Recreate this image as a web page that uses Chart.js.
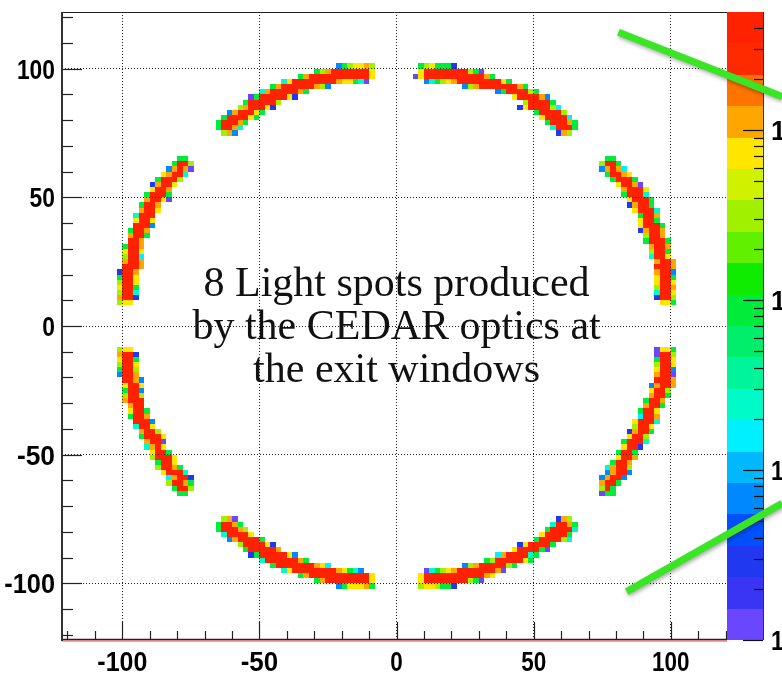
<!DOCTYPE html>
<html>
<head>
<meta charset="utf-8">
<title>CEDAR light spots</title>
<script src="https://cdn.jsdelivr.net/npm/chart.js@4.4.1/dist/chart.umd.min.js"></script>
<style>
  html, body { margin: 0; padding: 0; background: #fff; }
  #wrap { width: 782px; height: 674px; }
</style>
</head>
<body>
<div id="wrap"><canvas id="spots" width="782" height="674"></canvas></div>
<script>
// histogram frame ranges (bins are 2 x 2)
const X_RANGE = [-122, 120.5];
const Y_RANGE = [-122, 122];
const Z_RANGE = [1, 4945];
const BIN = 2;

// axis ticks and labels
const MAJOR_TICKS = [-100, -50, 0, 50, 100];
const MAJOR_LABELS = ['-100', '-50', '0', '50', '100'];
const MINOR_TICKS = [-120, -110, -90, -80, -70, -60, -40, -30, -20, -10, 10, 20, 30, 40, 60, 70, 80, 90, 110, 120];
const Z_MAJOR = [1, 10, 100, 1000];
const Z_MINOR = [2, 3, 4, 5, 6, 7, 8, 9, 20, 30, 40, 50, 60, 70, 80, 90,
                 200, 300, 400, 500, 600, 700, 800, 900, 2000, 3000, 4000];
const Z_LABELS = ['1', '10', '10²', '10³'];

// colour palette, bottom (low) to top (high)
const PALETTE = ['#6b46ff', '#3a35f2', '#2038f0', '#0050ff', '#0088ff',
                 '#00b8ff', '#00f0ff', '#00fac8', '#00f49a', '#00ee6a',
                 '#00ec3a', '#10ec00', '#60f000', '#a0f000', '#d0f200',
                 '#ffe600', '#ffa600', '#ff7400', '#ff2a00', '#ff2200'];

// cell code -> palette band
const CODE_BAND = { V: 0, D: 2, B: 4, C: 6, T: 7, G: 10, L: 13, Y: 15, O: 16, R: 19 };

// each row: [y bin low edge, x bin low edge of first cell, one code per cell]
const arcTopLeft = [
    [100, -22, 'BGLYYOL'],
    [98, -30, 'GLORRRRRRRY'],
    [96, -36, 'GORRRRRRRRRRRY'],
    [94, -42, 'TYRRRRRRRROYYGTV'],
    [92, -46, 'GORRRRRROLB'],
    [90, -50, 'TORRRRROG'],
    [88, -54, 'VGRRRRRYD'],
    [86, -56, 'GRRRRRL'],
    [84, -58, 'LORRRYD'],
    [82, -62, 'BORRRYG'],
    [80, -64, 'GRRRRYG'],
    [78, -66, 'GRRROG'],
    [76, -66, 'GRROT'],
    [74, -64, 'LOB']
];

const arcTopRight = [
    [100, 8, 'GLYGGGD'],
    [98, 8, 'YRRRRRRRRLGV'],
    [96, 6, 'VYRRRRRRRRRRROG'],
    [94, 10, 'BTGLYORRRRRRRRYG'],
    [92, 24, 'BLORRRRRRROG'],
    [90, 36, 'BGRRRRLG'],
    [88, 42, 'YRRRROB'],
    [86, 46, 'LRRRRG'],
    [84, 44, 'DYRRRRLC'],
    [82, 50, 'GRRRRL'],
    [80, 52, 'YRRRRC'],
    [78, 54, 'GRRROG'],
    [76, 56, 'TRRRG'],
    [74, 58, 'DOL']
];

const arcUpperLeft = [
    [64, -80, 'GG'],
    [62, -82, 'GRRL'],
    [60, -84, 'BOROV'],
    [58, -86, 'YORRT'],
    [56, -88, 'GRRRL'],
    [54, -90, 'DORRY'],
    [52, -90, 'YRRO'],
    [50, -92, 'GRRRG'],
    [48, -92, 'ORRYV'],
    [46, -94, 'GRRO'],
    [44, -94, 'ORRY'],
    [42, -96, 'TRRR'],
    [40, -96, 'YRRY'],
    [38, -96, 'RRRB'],
    [36, -98, 'GRRO'],
    [34, -98, 'ORRG'],
    [32, -98, 'RRO'],
    [30, -100, 'GRRO'],
    [28, -100, 'YRRY'],
    [26, -100, 'LRRC'],
    [24, -100, 'ORRO'],
    [22, -100, 'RRRO'],
    [20, -102, 'DRRO'],
    [18, -102, 'GRRY'],
    [16, -102, 'LRRY'],
    [14, -102, 'YRRG'],
    [12, -102, 'LRRT'],
    [10, -102, 'ORRD'],
    [8, -102, 'LYY']
];

const arcLowerLeft = [
    [-10, -102, 'LYY'],
    [-12, -102, 'ORRD'],
    [-14, -102, 'YRRG'],
    [-16, -102, 'LRRY'],
    [-18, -102, 'GRRL'],
    [-20, -102, 'BRRO'],
    [-22, -100, 'RROB'],
    [-24, -100, 'YRRY'],
    [-26, -100, 'GRRB'],
    [-28, -100, 'LRRL'],
    [-30, -100, 'ORRR'],
    [-32, -98, 'ORR'],
    [-34, -98, 'YRRG'],
    [-36, -98, 'GRRO'],
    [-38, -96, 'RRRB'],
    [-40, -96, 'TRRY'],
    [-42, -94, 'ORRL'],
    [-44, -94, 'GRRRY'],
    [-46, -92, 'ORRV'],
    [-48, -92, 'TORY'],
    [-50, -90, 'YRRG'],
    [-52, -90, 'LRRRY'],
    [-54, -88, 'GRRY'],
    [-56, -88, 'LRROG'],
    [-58, -86, 'YRRRT'],
    [-60, -84, 'CORRD'],
    [-62, -84, 'LRROG'],
    [-64, -82, 'GRRL'],
    [-66, -80, 'GG']
];

const arcUpperRight = [
    [64, 76, 'GG'],
    [62, 74, 'LRRG'],
    [60, 74, 'BOROC'],
    [58, 76, 'GRROY'],
    [56, 78, 'GRRRG'],
    [54, 80, 'YRROV'],
    [52, 82, 'ORRRY'],
    [50, 82, 'GRRRT'],
    [48, 84, 'YRRRG'],
    [46, 84, 'DORRG'],
    [44, 86, 'YRRRT'],
    [42, 88, 'GRRO'],
    [40, 88, 'YRRG'],
    [38, 88, 'YRRRG'],
    [36, 88, 'DORRO'],
    [34, 90, 'LRRO'],
    [32, 90, 'GRRRG'],
    [30, 92, 'ORRO'],
    [28, 92, 'LRRG'],
    [26, 92, 'TRRY'],
    [24, 94, 'ORRO'],
    [22, 94, 'RRRO'],
    [20, 94, 'ORRB'],
    [18, 94, 'YRRG'],
    [16, 94, 'YRRY'],
    [14, 94, 'LRRO'],
    [12, 94, 'TRRY'],
    [10, 94, 'DRRL'],
    [8, 96, 'YYG']
];

const arcLowerRight = [
    [-10, 94, 'VYYG'],
    [-12, 94, 'VRRL'],
    [-14, 94, 'GRRY'],
    [-16, 94, 'LRRY'],
    [-18, 94, 'YRRB'],
    [-20, 94, 'ORRV'],
    [-22, 94, 'RRRO'],
    [-24, 92, 'BORRO'],
    [-26, 92, 'YRRL'],
    [-28, 92, 'ORRG'],
    [-30, 90, 'GRRO'],
    [-32, 90, 'ORRG'],
    [-34, 88, 'GRRY'],
    [-36, 88, 'CRRO'],
    [-38, 86, 'YRRRT'],
    [-40, 86, 'LRRY'],
    [-42, 84, 'DORRG'],
    [-44, 84, 'YRRL'],
    [-46, 82, 'GRRRT'],
    [-48, 82, 'YRRD'],
    [-50, 80, 'GRRG'],
    [-52, 80, 'YRRO'],
    [-54, 78, 'GRRO'],
    [-56, 76, 'TORRL'],
    [-58, 76, 'BORRB'],
    [-60, 74, 'BORRB'],
    [-62, 74, 'ORRG'],
    [-64, 74, 'LRG'],
    [-66, 74, 'VGG']
];

const arcBottomLeft = [
    [-76, -64, 'LOV'],
    [-78, -66, 'GRROG'],
    [-80, -66, 'GRRROL'],
    [-82, -64, 'TRRRRY'],
    [-84, -62, 'BORRRRG'],
    [-86, -58, 'LRRRRYD'],
    [-88, -56, 'GRRRRRO'],
    [-90, -54, 'DGRRRRRYB'],
    [-92, -50, 'TRRRRRROG'],
    [-94, -46, 'GRRRRRRROYC'],
    [-96, -42, 'TYRRRRRRRROYGTB'],
    [-98, -36, 'GORRRRRRRRRRRY'],
    [-100, -30, 'GORRRRRRRRY'],
    [-102, -22, 'BGYYYOG']
];

const arcBottomRight = [
    [-76, 58, 'DOL'],
    [-78, 56, 'TRROG'],
    [-80, 54, 'GRRRRT'],
    [-82, 52, 'YRRRRG'],
    [-84, 50, 'GRRRRLC'],
    [-86, 44, 'DYRRRRG'],
    [-88, 42, 'YRRRRGV'],
    [-90, 36, 'CORRRRTG'],
    [-92, 32, 'GLRRRRRYG'],
    [-94, 24, 'BLORRRRRLG'],
    [-96, 10, 'VTGLYORRRRRRROV'],
    [-98, 8, 'YRRRRRRRRRRROY'],
    [-100, 8, 'YRRRRRRRRLGV'],
    [-102, 8, 'LYYLGGD']
];

const ALL_ARCS = [arcTopLeft, arcTopRight, arcUpperLeft, arcLowerLeft,
                  arcUpperRight, arcLowerRight, arcBottomLeft, arcBottomRight];

// annotation text, centred at x = 0, baselines in y units
const NOTE_LINES = ['8 Light spots produced', 'by the CEDAR optics at', 'the exit windows'];
const NOTE_BASELINES = [11.5, -5.2, -21.9];

// green pointer lines, [x, y] in axis units
const GUIDE_LINES = [
    [[80.9, 114.1], [140.6, 89.1]],
    [[83.9, -103.2], [140.6, -68.9]]
];

const LABEL_FONT = 'bold 28px "Liberation Sans", Arial, sans-serif';

// colour cells, drawn under the dotted grid
const cellsPlugin = {
    id: 'colzCells',
    beforeDraw(chart) {
        const { ctx } = chart;
        const xs = chart.scales.x, ys = chart.scales.y;
        ctx.save();
        ctx.fillStyle = '#ffffff';
        ctx.fillRect(0, 0, chart.width, chart.height);
        ALL_ARCS.forEach(arc => {
            arc.forEach(([yb, x0, codes]) => {
                for (let i = 0; i < codes.length; i++) {
                    const xb = x0 + i * BIN;
                    const px1 = Math.round(xs.getPixelForValue(xb));
                    const px2 = Math.round(xs.getPixelForValue(xb + BIN));
                    const py1 = Math.round(ys.getPixelForValue(yb + BIN));
                    const py2 = Math.round(ys.getPixelForValue(yb));
                    ctx.fillStyle = PALETTE[CODE_BAND[codes[i]]];
                    ctx.fillRect(px1, py1, px2 - px1, py2 - py1);
                }
            });
        });
        ctx.restore();
    }
};

function line(ctx, x1, y1, x2, y2) {
    ctx.beginPath();
    ctx.moveTo(x1, y1);
    ctx.lineTo(x2, y2);
    ctx.stroke();
}

// condensed bold labels like the original plot
function label(ctx, text, x, y, align, maxW) {
    ctx.textAlign = align;
    ctx.fillText(text, x, y, maxW);
}

// frame, inward ticks, labels, palette, note and pointers
const decorPlugin = {
    id: 'decor',
    afterDraw(chart) {
        const { ctx, chartArea: area } = chart;
        const xs = chart.scales.x, ys = chart.scales.y, zs = chart.scales.z;
        ctx.save();

        // frame
        ctx.strokeStyle = '#222';
        ctx.lineWidth = 1;
        line(ctx, area.left, area.top + 0.5, area.right, area.top + 0.5);
        ctx.lineWidth = 1.5;
        line(ctx, area.left, area.bottom - 0.5, area.right, area.bottom - 0.5);
        ctx.strokeStyle = 'rgba(230, 40, 40, 0.85)';
        ctx.lineWidth = 1;
        line(ctx, area.left, area.bottom + 1, area.right, area.bottom + 1);
        ctx.strokeStyle = '#333';
        ctx.lineWidth = 2;
        line(ctx, area.left, area.top, area.left, area.bottom + 1);

        // ticks pointing into the frame
        ctx.lineWidth = 1.2;
        ctx.strokeStyle = '#222';
        MAJOR_TICKS.forEach(v => {
            const py = Math.round(ys.getPixelForValue(v)) + 0.5;
            line(ctx, area.left, py, area.left + 20, py);
            const px = Math.round(xs.getPixelForValue(v)) + 0.5;
            line(ctx, px, area.bottom, px, area.bottom - 18);
        });
        MINOR_TICKS.forEach(v => {
            const py = Math.round(ys.getPixelForValue(v)) + 0.5;
            line(ctx, area.left, py, area.left + 11, py);
            const px = Math.round(xs.getPixelForValue(v)) + 0.5;
            line(ctx, px, area.bottom, px, area.bottom - 9);
        });

        // axis labels
        ctx.fillStyle = '#000';
        ctx.font = LABEL_FONT;
        ctx.textBaseline = 'alphabetic';
        MAJOR_TICKS.forEach((v, i) => {
            const text = MAJOR_LABELS[i];
            const wX = text.length * 12.5;
            label(ctx, text, xs.getPixelForValue(v), area.bottom + 31, 'center', wX);
            const wY = text.length * 12.7;
            label(ctx, text, area.left - 7, ys.getPixelForValue(v) + 10, 'right', wY);
        });

        // palette bands
        const barLeft = zs.left;
        const barRight = zs.left + 36;
        const logMax = Math.log10(Z_RANGE[1]);
        PALETTE.forEach((color, i) => {
            const zLow = Math.pow(10, logMax * i / PALETTE.length);
            const zHigh = Math.pow(10, logMax * (i + 1) / PALETTE.length);
            const yLow = Math.round(zs.getPixelForValue(zLow));
            const yHigh = Math.round(zs.getPixelForValue(zHigh));
            ctx.fillStyle = color;
            ctx.fillRect(barLeft, yHigh, barRight - barLeft, yLow - yHigh);
        });
        ctx.strokeStyle = '#333';
        ctx.lineWidth = 1;
        line(ctx, barRight + 0.5, area.top, barRight + 0.5, area.bottom);
        ctx.strokeStyle = '#111';
        ctx.lineWidth = 1.2;
        Z_MAJOR.forEach(v => {
            const py = Math.round(zs.getPixelForValue(v)) + 0.5;
            line(ctx, barRight, py, barRight - 20, py);
        });
        Z_MINOR.forEach(v => {
            const py = Math.round(zs.getPixelForValue(v)) + 0.5;
            line(ctx, barRight, py, barRight - 9, py);
        });
        ctx.fillStyle = '#000';
        Z_MAJOR.forEach((v, i) => {
            label(ctx, Z_LABELS[i], barRight + 8, zs.getPixelForValue(v) + 10, 'left', Z_LABELS[i].length * 12.7);
        });

        // note text
        ctx.fillStyle = '#111';
        ctx.font = '42px "Liberation Serif", "Times New Roman", serif';
        ctx.textAlign = 'center';
        ctx.textBaseline = 'alphabetic';
        NOTE_LINES.forEach((text, i) => {
            ctx.fillText(text, xs.getPixelForValue(0), ys.getPixelForValue(NOTE_BASELINES[i]));
        });

        // green pointers
        ctx.strokeStyle = '#3ae624';
        ctx.lineWidth = 7;
        ctx.lineCap = 'butt';
        ctx.shadowColor = 'rgba(0, 0, 0, 0.35)';
        ctx.shadowBlur = 4;
        ctx.shadowOffsetX = 1;
        ctx.shadowOffsetY = 2;
        GUIDE_LINES.forEach(([a, b]) => {
            line(ctx, xs.getPixelForValue(a[0]), ys.getPixelForValue(a[1]),
                 xs.getPixelForValue(b[0]), ys.getPixelForValue(b[1]));
        });
        ctx.restore();
    }
};

// keep the frame exactly where the original puts it
function fixBox(size) {
    return s => {
        if (s.isHorizontal()) s.height = size; else s.width = size;
        s.paddingTop = 0;
        s.paddingBottom = 0;
        s.paddingLeft = 0;
        s.paddingRight = 0;
    };
}

const gridStyle = { color: '#222', lineWidth: 1, drawTicks: false };

const chart = new Chart(document.getElementById('spots'), {
    type: 'scatter',
    data: { datasets: [{ data: [], showLine: false }] },
    plugins: [cellsPlugin, decorPlugin],
    options: {
        responsive: false,
        devicePixelRatio: 1,
        animation: false,
        layout: { padding: { top: 12, left: 0, right: 0, bottom: 0 } },
        plugins: { legend: { display: false }, tooltip: { enabled: false } },
        scales: {
            x: {
                type: 'linear',
                position: 'bottom',
                min: X_RANGE[0],
                max: X_RANGE[1],
                grid: gridStyle,
                border: { display: false, dash: [1, 2] },
                ticks: { display: false },
                afterBuildTicks: s => { s.ticks = MAJOR_TICKS.map(v => ({ value: v })); },
                afterFit: fixBox(34)
            },
            y: {
                type: 'linear',
                position: 'left',
                min: Y_RANGE[0],
                max: Y_RANGE[1],
                grid: gridStyle,
                border: { display: false, dash: [1, 2] },
                ticks: { display: false },
                afterBuildTicks: s => { s.ticks = MAJOR_TICKS.map(v => ({ value: v })); },
                afterFit: fixBox(62)
            },
            z: {
                type: 'logarithmic',
                position: 'right',
                min: Z_RANGE[0],
                max: Z_RANGE[1],
                grid: { display: false, drawTicks: false },
                border: { display: false },
                ticks: { display: false },
                afterBuildTicks: s => { s.ticks = Z_MAJOR.map(v => ({ value: v })); },
                afterFit: fixBox(55)
            }
        }
    }
});
</script>
</body>
</html>
